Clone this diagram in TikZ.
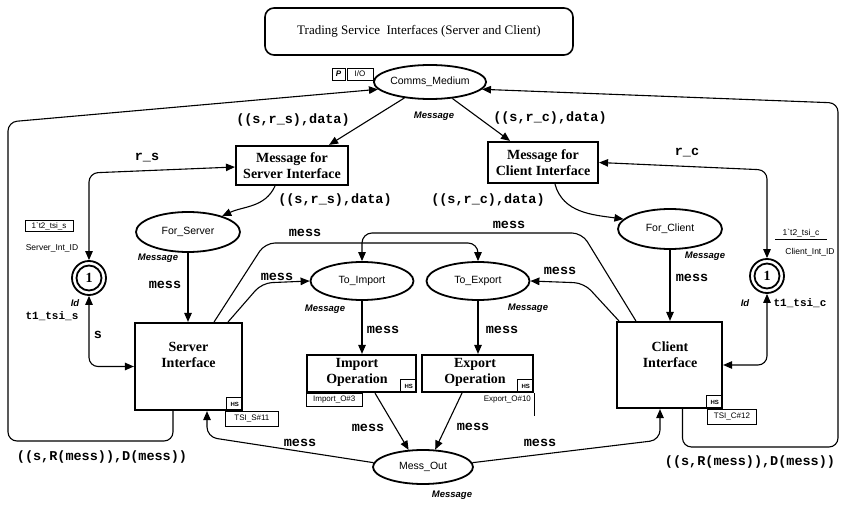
\documentclass[tikz,border=0pt]{standalone}
\usepackage{fontspec}
\setmainfont{Liberation Serif}
\newfontfamily\sansf{Liberation Sans}
\newfontfamily\monof{Liberation Mono}
\usetikzlibrary{arrows.meta,shapes.geometric,calc}

\begin{document}
\begin{tikzpicture}[x=1pt,y=1pt,
  tip/.style={-{Triangle[length=9pt,width=7.5pt]}},
  tips/.style={{Triangle[length=9pt,width=7.5pt]}-{Triangle[length=9pt,width=7.5pt]}},
  arc/.style={line width=1.1pt},
  trans/.style={draw,line width=2.2pt,align=center,inner sep=0pt,
    font=\bfseries\fontsize{14}{16.5}\selectfont},
  ttext/.style={align=center,inner sep=0pt,font=\bfseries\fontsize{14}{16}\selectfont},
  place/.style={draw,ellipse,line width=1.8pt,inner sep=0pt,
    font=\sansf\fontsize{10.5}{12}\selectfont},
  idplace/.style={draw,circle,line width=1.8pt,minimum size=34pt,inner sep=0pt,
    font=\bfseries\fontsize{14}{14}\selectfont},
  arclab/.style={inner sep=0pt,font=\monof\bfseries\fontsize{13.5}{14}\selectfont},
  smalllab/.style={inner sep=0pt,font=\monof\bfseries\fontsize{11}{12}\selectfont},
  typelab/.style={inner sep=0pt,font=\sansf\bfseries\itshape\fontsize{9.5}{10}\selectfont},
  tinylab/.style={inner sep=0pt,font=\sansf\fontsize{8.5}{10}\selectfont},
  tagbox/.style={draw,line width=0.7pt,inner sep=0pt,font=\sansf\fontsize{8}{9}\selectfont},
  hsbox/.style={draw,line width=0.7pt,inner sep=0pt,minimum width=16pt,minimum height=13pt,
    font=\sansf\bfseries\fontsize{6}{6}\selectfont}
]
\useasboundingbox (0,0) rectangle (841,-505);

% heading
\node[draw,rounded corners=9pt,line width=1.6pt,minimum width=308pt,minimum height=47pt,
  inner sep=0pt,font=\fontsize{13}{15}\selectfont] (title) at (419,-31.5)
  {Trading Service\ \ Interfaces (Server and Client)};

% places
\node[place,minimum width=106pt,minimum height=34pt] (comms) at (430,-82) {Comms\_Medium};
\node[place,minimum width=104pt,minimum height=40pt] (forS) at (188,-232) {For\_Server};
\node[place,minimum width=104pt,minimum height=40pt] (forC) at (670,-229) {For\_Client};
\node[place,minimum width=103pt,minimum height=38pt] (toI) at (362,-281) {To\_Import};
\node[place,minimum width=103pt,minimum height=38pt] (toE) at (478,-281) {To\_Export};
\node[place,minimum width=100pt,minimum height=34pt] (mout) at (423,-467) {Mess\_Out};
\node[idplace] (sid) at (89,-278) {1};
\node[idplace] (cid) at (767,-276) {1};
\draw[line width=1.8pt] (sid.center) circle[radius=12.5pt];
\draw[line width=1.8pt] (cid.center) circle[radius=12.5pt];

% port tags of Comms_Medium
\node[draw,line width=0.7pt,inner sep=0pt,minimum width=13pt,minimum height=12pt,
  font=\sansf\bfseries\itshape\fontsize{8}{8}\selectfont] (pP) at (338.5,-74) {P};
\node[draw,line width=0.7pt,inner sep=0pt,minimum width=26pt,minimum height=12pt,
  font=\sansf\fontsize{8}{8}\selectfont] (pIO) at (360,-74) {I/O};

% transitions
\node[trans,minimum width=112pt,minimum height=39pt] (msgS) at (292,-165.5) {Message for\\Server Interface};
\node[trans,minimum width=110pt,minimum height=41pt] (msgC) at (543,-162.5) {Message for\\Client Interface};
\node[trans,minimum width=107pt,minimum height=87pt] (srv) at (188.5,-366.5) {};
\node[trans,minimum width=105pt,minimum height=86pt] (cli) at (669.5,-365) {};
\node[trans,minimum width=109pt,minimum height=37pt] (imp) at (361.5,-373.5) {};
\node[trans,minimum width=111pt,minimum height=37pt] (exp) at (477.5,-373.5) {};
\node[ttext] (srvT) at (188.5,-355) {Server\\Interface};
\node[ttext] (cliT) at (670,-355) {Client\\Interface};
\node[ttext] (impT) at (357,-372) {Import\\Operation};
\node[ttext] (expT) at (475,-372) {Export\\Operation};

% substitution tags
\node[hsbox,anchor=south east] (srvHS) at (srv.south east) {HS};
\node[hsbox,anchor=south east] (cliHS) at (cli.south east) {HS};
\node[hsbox,anchor=south east] (impHS) at (imp.south east) {HS};
\node[hsbox,anchor=south east] (expHS) at (exp.south east) {HS};
\node[tagbox,anchor=north west,minimum width=53pt,minimum height=15pt] (srvTag)
  at ([xshift=-18pt]srv.south east) {TSI\_S\#11};
\node[tagbox,anchor=north west,minimum width=49pt,minimum height=15pt] (cliTag)
  at ([xshift=-16pt]cli.south east) {TSI\_C\#12};
\node[tagbox,anchor=north west,minimum width=56pt,minimum height=13pt] (impTag)
  at (imp.south west) {Import\_O\#3};
\node[inner sep=0pt,anchor=north east,font=\sansf\fontsize{8}{9}\selectfont] (expTag)
  at ([xshift=-3pt,yshift=-3pt]exp.south east) {Export\_O\#10};
\draw[line width=0.7pt] (exp.south east) -- ++(0,-23);

% initial markings and colour sets of the id places
\node[tagbox,minimum width=48pt,minimum height=11pt] (sinit) at (49,-226) {1`t2\_tsi\_s};
\node[tinylab] (sname) at (52,-248) {Server\_Int\_ID};
\node[tinylab] (cinit) at (801,-233) {1`t2\_tsi\_c};
\draw[line width=0.7pt] (775,-239.5) -- (827,-239.5);
\node[tinylab] (cname) at (810,-252) {Client\_Int\_ID};
\node[typelab] (sidType) at (75,-303) {Id};
\node[typelab] (cidType) at (745,-303) {Id};

% colour sets of the message places
\node[typelab] (commsType) at (434,-116) {Message};
\node[typelab] (forSType) at (158,-258) {Message};
\node[typelab] (forCType) at (705,-256) {Message};
\node[typelab] (toIType) at (325,-309) {Message};
\node[typelab] (toEType) at (528,-308) {Message};
\node[typelab] (moutType) at (452,-495) {Message};

% arcs
\draw[arc,tip] (comms) -- ([xshift=-20pt]msgS.north east);
\draw[arc,tip] (comms) -- ([xshift=-33pt]msgC.north);
\draw[arc,tip] ([xshift=-17pt]msgS.south) to[out=-115,in=25] (forS.25);
\draw[arc,tip] ([xshift=12pt]msgC.south) to[out=-75,in=172] (forC.168);
\draw[arc,tips,rounded corners=9pt] (sid.north) -- (89,-173) -- ([yshift=-1.5pt]msgS.west);
\draw[arc,tips,rounded corners=9pt] (cid.north) -- (767,-170) -- (msgC.east);
\draw[arc,tips,rounded corners=9pt] (sid.south) -- (89,-366.5) -- (srv.west);
\draw[arc,tips,rounded corners=9pt] (cid.south) -- (767,-365) -- (cli.east);
\draw[arc,tip] (forS.south) -- (forS.south |- srv.north);
\draw[arc,tip] (forC.south) -- (forC.south |- cli.north);
\draw[arc,tip,rounded corners=10pt] ([xshift=-15pt]srv.north east) -- (262,-283) -- (toI.west);
\draw[arc,tip,rounded corners=10pt] ([xshift=-29pt]srv.north east) -- (265,-243) -- (478,-243) -- (toE.north);
\draw[arc,tip,rounded corners=10pt] ([xshift=20pt]cli.north west) -- (582,-233) -- (362,-233) -- (toI.north);
\draw[arc,tip,rounded corners=10pt] ([xshift=3pt]cli.north west) -- (584,-283) -- (toE.east);
\draw[arc,tip] (toI.south) -- (toI.south |- imp.north);
\draw[arc,tip] (toE.south) -- (toE.south |- exp.north);
\draw[arc,tip] ([xshift=13.5pt]imp.south) -- (mout.130);
\draw[arc,tip] ([xshift=-15.5pt]exp.south) -- (mout.55);
\draw[arc,tip,rounded corners=10pt] (mout.175) -- (207,-437) -- ([xshift=18.5pt]srv.south);
\draw[arc,tip,rounded corners=10pt] (mout.5) -- (660,-440) -- ([xshift=-9.5pt]cli.south);
\draw[arc,tip,rounded corners=9pt] ([xshift=-15.5pt]srv.south) -- (173,-441) -- (8,-441) -- (8,-122) -- (comms.188);
\draw[arc,tip,rounded corners=9pt] ([xshift=13pt]cli.south) -- (682.5,-447) -- (838,-447) -- (838,-103) -- (comms.352);

% arc inscriptions
\node[arclab] (l1) at (293,-120) {((s,r\_s),data)};
\node[arclab] (l2) at (550,-118) {((s,r\_c),data)};
\node[arclab] (l3) at (147,-158) {r\_s};
\node[arclab] (l4) at (687,-153) {r\_c};
\node[arclab] (l5) at (335,-200) {((s,r\_s),data)};
\node[arclab] (l6) at (488,-200) {((s,r\_c),data)};
\node[arclab] (l7) at (165,-285) {mess};
\node[arclab] (l8) at (692,-278) {mess};
\node[smalllab] (l9) at (52,-316) {t1\_tsi\_s};
\node[smalllab] (l10) at (800,-303) {t1\_tsi\_c};
\node[arclab] (l11) at (98,-335) {s};
\node[arclab] (l12) at (305,-233) {mess};
\node[arclab] (l13) at (277,-277) {mess};
\node[arclab] (l14) at (509,-225) {mess};
\node[arclab] (l15) at (560,-271) {mess};
\node[arclab] (l16) at (383,-330) {mess};
\node[arclab] (l17) at (502,-330) {mess};
\node[arclab] (l18) at (368,-428) {mess};
\node[arclab] (l19) at (473,-427) {mess};
\node[arclab] (l20) at (300,-443) {mess};
\node[arclab] (l21) at (540,-443) {mess};
\node[arclab] (l22) at (102,-457) {((s,R(mess)),D(mess))};
\node[arclab] (l23) at (750,-462) {((s,R(mess)),D(mess))};
\end{tikzpicture}
\end{document}
